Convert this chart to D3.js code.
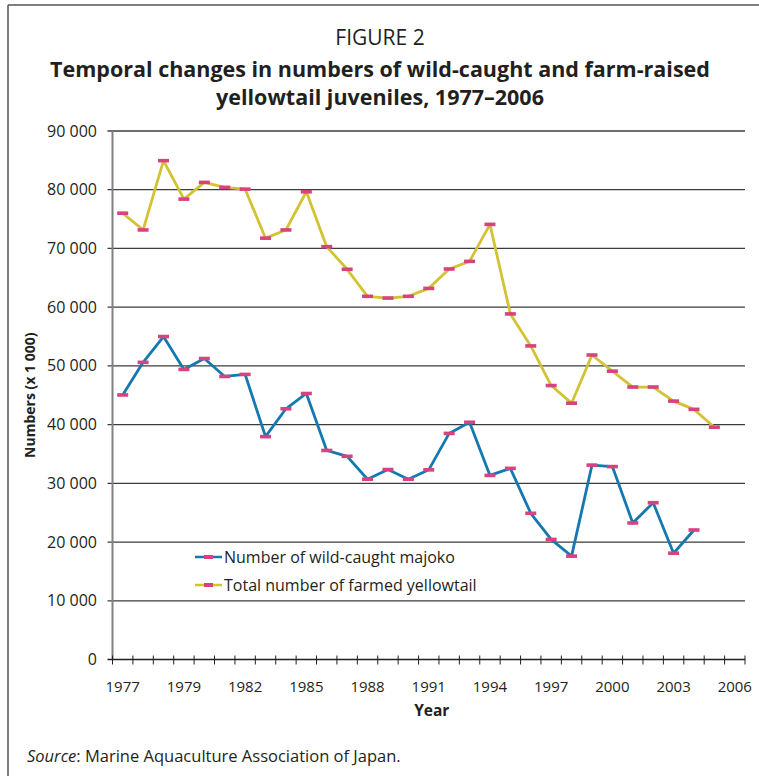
<!DOCTYPE html>
<html>
<head>
<meta charset="utf-8">
<script src="https://cdn.jsdelivr.net/npm/d3@7"></script>
<style>
  body { margin: 0; background: #fff; }
  text { font-family: "Open Sans", "Noto Sans", sans-serif; fill: #231f20; }
</style>
</head>
<body>
<div id="chart"></div>
<script>
// Werte (x 1 000)
var slots = d3.range(31)   // Kategorien der x-Achse (30 Jahre + ein leerer Platz)
var tickLabels = ["1977", "1979", "1982", "1985", "1988", "1991", "1994", "1997", "2000", "2003", "2006"]
var yTicks = [0, 10000, 20000, 30000, 40000, 50000, 60000, 70000, 80000, 90000]

var wildCaught = [45050, 50600, 55000, 49400, 51250, 48200, 48550, 37950, 42700, 45300,
  35600, 34600, 30700, 32350, 30700, 32300, 38500, 40400, 31350, 32550,
  24900, 20450, 17600, 33100, 32850, 23250, 26700, 18100, 22050]
var farmed = [76000, 73150, 84950, 78400, 81250, 80400, 80100, 71750, 73150, 79650,
  70300, 66450, 61850, 61550, 61850, 63200, 66500, 67800, 74100, 58850,
  53400, 46650, 43650, 51850, 49100, 46400, 46400, 44000, 42600, 39550]

var seriesNames = ["Number of wild-caught majoko", "Total number of farmed yellowtail"]
var seriesColors = ["#1479b1", "#d2c234"]
var markerColor = "#d8437f"

var width = 759
var height = 776
var plot = { left: 112.5, right: 745, top: 131, bottom: 659.5 }

var svg = d3.select("#chart").append("svg")
  .attr("width", width)
  .attr("height", height)

// Rahmen (oben und links)
svg.append("path")
  .attr("d", "M8,5H759M8,5V776")
  .attr("fill", "none")
  .attr("stroke", "#555")
  .attr("stroke-width", 1.5)

// Titel
svg.append("text").attr("x", 380).attr("y", 45).attr("text-anchor", "middle")
  .style("font-size", "21px").text("FIGURE 2")
svg.append("text").attr("x", 380).attr("y", 77).attr("text-anchor", "middle")
  .style("font-size", "21.5px").style("font-weight", "bold")
  .text("Temporal changes in numbers of wild-caught and farm-raised")
svg.append("text").attr("x", 380).attr("y", 105).attr("text-anchor", "middle")
  .style("font-size", "21.5px").style("font-weight", "bold")
  .text("yellowtail juveniles, 1977\u20132006")

// Skalen
var x = d3.scaleBand().domain(slots).range([plot.left, plot.right]).padding(0)
var y = d3.scaleLinear().domain([0, 90000]).range([plot.bottom, plot.top])
var fmt = function(d){ return d3.format(",")(d).replace(/,/g, " ") }

// Gitterlinien
svg.append("g")
  .selectAll("line")
  .data(yTicks.filter(function(d){ return d > 0 }))
  .enter()
  .append("line")
    .attr("x1", plot.left - 5)
    .attr("x2", plot.right)
    .attr("y1", function(d){ return y(d) })
    .attr("y2", function(d){ return y(d) })
    .attr("stroke", "#3c3c3c")
    .attr("stroke-width", 1.3)

// y-Achse
svg.append("line")
  .attr("x1", plot.left).attr("x2", plot.left)
  .attr("y1", plot.top).attr("y2", plot.bottom)
  .attr("stroke", "#808080").attr("stroke-width", 2)

svg.append("g")
  .selectAll("text")
  .data(yTicks)
  .enter()
  .append("text")
    .attr("x", 97)
    .attr("y", function(d){ return y(d) + 5.5 })
    .attr("text-anchor", "end")
    .style("font-size", "16px")
    .text(fmt)

svg.append("text")
  .attr("transform", "translate(35," + ((plot.top + plot.bottom) / 2) + ") rotate(-90)")
  .attr("text-anchor", "middle")
  .style("font-size", "14px").style("font-weight", "bold")
  .text("Numbers (x 1 000)")

// x-Achse
svg.append("line")
  .attr("x1", plot.left - 5).attr("x2", plot.right)
  .attr("y1", plot.bottom).attr("y2", plot.bottom)
  .attr("stroke", "#231f20").attr("stroke-width", 1.3)

var boundaries = slots.map(function(d){ return x(d) }).concat([plot.right])
svg.append("g")
  .selectAll("line")
  .data(boundaries)
  .enter()
  .append("line")
    .attr("x1", function(d){ return d })
    .attr("x2", function(d){ return d })
    .attr("y1", plot.bottom - 4)
    .attr("y2", plot.bottom + 5)
    .attr("stroke", "#231f20")
    .attr("stroke-width", 1)

svg.append("g")
  .selectAll("text")
  .data(tickLabels)
  .enter()
  .append("text")
    .attr("x", function(d, i){ return x(slots[i * 3]) + x.bandwidth() / 2 })
    .attr("y", 692)
    .attr("text-anchor", "middle")
    .style("font-size", "15px")
    .text(function(d){ return d })

svg.append("text")
  .attr("x", (plot.left + plot.right) / 2 + 3).attr("y", 716)
  .attr("text-anchor", "middle")
  .style("font-size", "15.5px").style("font-weight", "bold")
  .text("Year")

// Linien und Marker
var line = d3.line()
  .x(function(d, i){ return x(slots[i]) + x.bandwidth() / 2 })
  .y(function(d){ return y(d) })

;[wildCaught, farmed].forEach(function(series, k){
  svg.append("path")
    .datum(series)
    .attr("d", line)
    .attr("fill", "none")
    .attr("stroke", seriesColors[k])
    .attr("stroke-width", 2.8)
    .attr("stroke-linejoin", "round")

  svg.append("g")
    .selectAll("rect")
    .data(series)
    .enter()
    .append("rect")
      .attr("x", function(d, i){ return x(slots[i]) + x.bandwidth() / 2 - 5.5 })
      .attr("y", function(d){ return y(d) - 1.8 })
      .attr("width", 11)
      .attr("height", 3.6)
      .attr("fill", markerColor)
})

// Legende
var legend = svg.append("g")
  .selectAll("g")
  .data(seriesNames)
  .enter()
  .append("g")
    .attr("transform", function(d, i){ return "translate(195," + (557 + i * 28) + ")" })

legend.append("line")
  .attr("x1", 0).attr("x2", 27).attr("y1", 0).attr("y2", 0)
  .attr("stroke", function(d, i){ return seriesColors[i] })
  .attr("stroke-width", 2.5)
legend.append("rect")
  .attr("x", 9).attr("y", -2).attr("width", 9).attr("height", 4)
  .attr("fill", markerColor)
legend.append("text")
  .attr("x", 29).attr("y", 6)
  .style("font-size", "16px")
  .text(function(d){ return d })

// Quelle
var src = svg.append("text").attr("x", 27).attr("y", 762).style("font-size", "16.5px")
src.append("tspan").style("font-style", "italic").text("Source")
src.append("tspan").text(": Marine Aquaculture Association of Japan.")
</script>
</body>
</html>
